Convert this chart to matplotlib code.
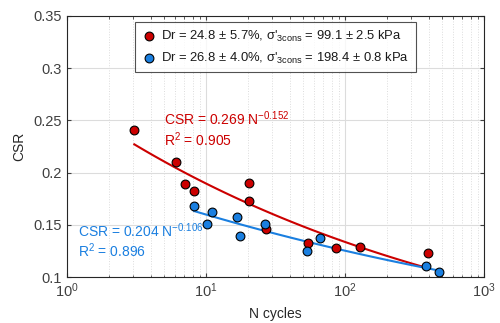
import numpy as np
import matplotlib
matplotlib.use("Agg")
import matplotlib.pyplot as plt

plt.rcParams["font.family"] = ["Liberation Sans", "DejaVu Sans"]
plt.rcParams["mathtext.fontset"] = "custom"
plt.rcParams["mathtext.rm"] = "Liberation Sans"
plt.rcParams["mathtext.it"] = "Liberation Sans:italic"
plt.rcParams["mathtext.bf"] = "Liberation Sans:bold"

# test results
n_red = [3.05, 6.1, 7.1, 8.2, 20.3, 20.3, 27.0, 54.0, 86.0, 128.0, 393.0]
csr_red = [0.241, 0.210, 0.189, 0.182, 0.190, 0.173, 0.146, 0.133, 0.128, 0.1285, 0.123]

n_blue = [8.2, 10.1, 11.0, 16.8, 17.6, 26.6, 53.0, 66.0, 380.0, 474.0]
csr_blue = [0.168, 0.151, 0.162, 0.157, 0.139, 0.151, 0.125, 0.137, 0.1105, 0.1045]

# power-law fits CSR = a * N^b
fit_red = (0.269, -0.152)
fit_blue = (0.204, -0.106)

red = "#CC0000"
blue = "#1A7FE0"

fig = plt.figure(figsize=(5.0, 3.23), dpi=100)
ax = fig.add_axes([0.134, 0.1424, 0.834, 0.8081])

ax.set_xscale("log")
ax.set_xlim(1, 1000)
ax.set_ylim(0.1, 0.35)
ax.set_yticks([0.1, 0.15, 0.2, 0.25, 0.3, 0.35])
ax.set_yticklabels(["0.1", "0.15", "0.2", "0.25", "0.3", "0.35"])

ax.grid(which="major", color="#dcdcdc", linewidth=0.8, linestyle="-")
ax.grid(which="minor", axis="x", color="#dcdcdc", linewidth=0.7, linestyle=":")
ax.set_axisbelow(True)

ax.tick_params(which="both", direction="in", top=True, right=True,
               colors="#404040", labelsize=10.5)
ax.tick_params(which="major", length=3)
ax.tick_params(which="minor", length=1.8)
for s in ax.spines.values():
    s.set_color("#262626")
    s.set_linewidth(0.8)

# fitted curves over each data range
nr = np.logspace(np.log10(min(n_red)), np.log10(380), 100)
ax.plot(nr, fit_red[0] * nr ** fit_red[1], color=red, linewidth=1.5, zorder=3)
nb = np.logspace(np.log10(min(n_blue)), np.log10(max(n_blue)), 100)
ax.plot(nb, fit_blue[0] * nb ** fit_blue[1], color=blue, linewidth=1.5, zorder=3)

ax.scatter(n_red, csr_red, s=40, color=red, edgecolor="black", linewidth=0.8, zorder=4,
           label=r"Dr = 24.8 ± 5.7%, σ'$_{\mathrm{3cons}}$ = 99.1 ± 2.5 kPa")
ax.scatter(n_blue, csr_blue, s=40, color=blue, edgecolor="black", linewidth=0.8, zorder=5,
           label=r"Dr = 26.8 ± 4.0%, σ'$_{\mathrm{3cons}}$ = 198.4 ± 0.8 kPa")

leg = ax.legend(loc="upper left", bbox_to_anchor=(0.163, 0.977), fontsize=9.4,
                frameon=True, fancybox=False, edgecolor="#262626",
                handletextpad=0.3, borderpad=0.5, labelspacing=0.55,
                handlelength=1.2, borderaxespad=0)
leg.get_frame().set_linewidth(0.8)
for t in leg.get_texts():
    t.set_color("#1a1a1a")

ax.text(5.0, 0.2455, r"CSR = 0.269 N$^{-0.152}$", color=red, fontsize=10)
ax.text(5.0, 0.2255, r"R$^{2}$ = 0.905", color=red, fontsize=10)
ax.text(1.2, 0.138, r"CSR = 0.204 N$^{-0.106}$", color=blue, fontsize=10)
ax.text(1.2, 0.119, r"R$^{2}$ = 0.896", color=blue, fontsize=10)

ax.set_xlabel("N cycles", fontsize=10, color="#262626", labelpad=5)
ax.set_ylabel("CSR", fontsize=10, color="#262626", labelpad=5)

fig.savefig("out.png", dpi=100)
